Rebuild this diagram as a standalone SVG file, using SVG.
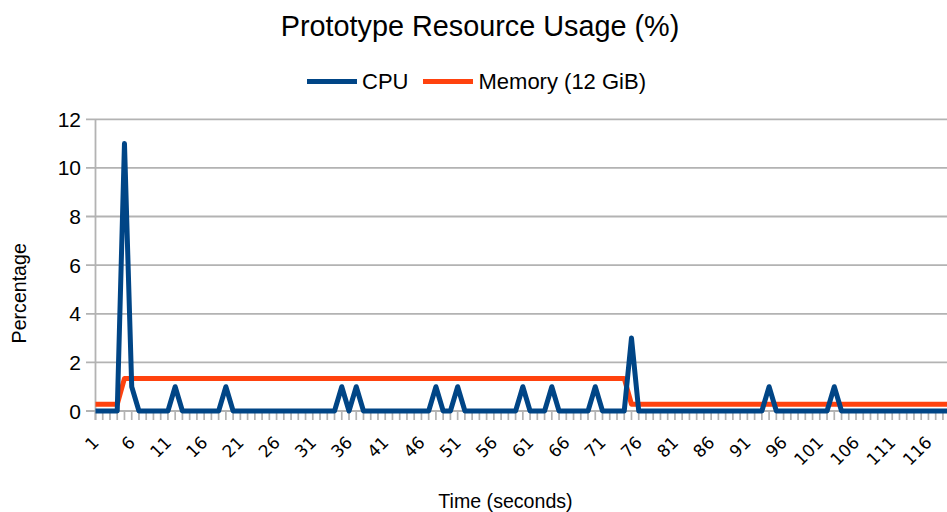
<svg xmlns="http://www.w3.org/2000/svg" width="947" height="512" viewBox="0 0 947 512">
  <style>
    .txt { font-family: "Liberation Sans", Arial, sans-serif; fill: #000; }
    .title { font-size: 28.8px; }
    .legend { font-size: 22px; }
    .ylab { font-size: 21px; text-anchor: end; }
    .xlab { font-family: "DejaVu Sans", sans-serif; font-size: 17px; text-anchor: end; fill: #000; }
    .axtitle { font-size: 19.6px; text-anchor: middle; }
    .grid { stroke: #b3b3b3; stroke-width: 1.8; fill: none; }
    .tick { stroke: #b3b3b3; stroke-width: 1.7; fill: none; }
    .cpu { stroke: #004586; stroke-width: 5; fill: none; stroke-linejoin: round; }
    .mem { stroke: #ff420e; stroke-width: 5; fill: none; stroke-linejoin: round; }
  </style>
  <rect width="947" height="512" fill="#ffffff"/>

  <g id="title">
    <text class="txt title" x="480" y="36" text-anchor="middle">Prototype Resource Usage (%)</text>
  </g>

  <g id="legend">
    <line class="cpu" x1="307" y1="81.5" x2="357" y2="81.5" stroke-width="4.5"/>
    <text class="txt legend" x="362" y="89">CPU</text>
    <line class="mem" x1="423" y1="81.5" x2="473" y2="81.5" stroke-width="4.5"/>
    <text class="txt legend" x="478.5" y="89">Memory (12 GiB)</text>
  </g>

  <!-- horizontal grid lines with y-axis ticks, 0..12 step 2 -->
  <g id="grid">
    <path class="grid" d="M86 119.3H947M86 167.9H947M86 216.5H947M86 265.1H947M86 313.8H947M86 362.4H947M86 411H947"/>
    <path class="grid" d="M95.5 119.3V420"/>
  </g>

  <g id="y-labels">
    <text class="txt ylab" x="81" y="126.8">12</text>
    <text class="txt ylab" x="81" y="175.4">10</text>
    <text class="txt ylab" x="81" y="224">8</text>
    <text class="txt ylab" x="81" y="272.6">6</text>
    <text class="txt ylab" x="81" y="321.3">4</text>
    <text class="txt ylab" x="81" y="369.9">2</text>
    <text class="txt ylab" x="81" y="418.5">0</text>
  </g>

  <!-- one tick per sample, x(i) = 95.5 + (i-1)*7.243 -->
  <g id="x-ticks">
    <path class="tick" d="M95.5 411v9M102.74 411v9M109.99 411v9M117.23 411v9M124.47 411v9M131.72 411v9M138.96 411v9M146.2 411v9M153.44 411v9M160.69 411v9M167.93 411v9M175.17 411v9M182.42 411v9M189.66 411v9M196.9 411v9M204.15 411v9M211.39 411v9M218.63 411v9M225.87 411v9M233.12 411v9M240.36 411v9M247.6 411v9M254.85 411v9M262.09 411v9M269.33 411v9M276.58 411v9M283.82 411v9M291.06 411v9M298.3 411v9M305.55 411v9M312.79 411v9M320.03 411v9M327.28 411v9M334.52 411v9M341.76 411v9M349.01 411v9M356.25 411v9M363.49 411v9M370.73 411v9M377.98 411v9M385.22 411v9M392.46 411v9M399.71 411v9M406.95 411v9M414.19 411v9M421.44 411v9M428.68 411v9M435.92 411v9M443.16 411v9M450.41 411v9M457.65 411v9M464.89 411v9M472.14 411v9M479.38 411v9M486.62 411v9M493.87 411v9M501.11 411v9M508.35 411v9M515.59 411v9M522.84 411v9M530.08 411v9M537.32 411v9M544.57 411v9M551.81 411v9M559.05 411v9M566.3 411v9M573.54 411v9M580.78 411v9M588.02 411v9M595.27 411v9M602.51 411v9M609.75 411v9M617 411v9M624.24 411v9M631.48 411v9M638.73 411v9M645.97 411v9M653.21 411v9M660.45 411v9M667.7 411v9M674.94 411v9M682.18 411v9M689.43 411v9M696.67 411v9M703.91 411v9M711.16 411v9M718.4 411v9M725.64 411v9M732.88 411v9M740.13 411v9M747.37 411v9M754.61 411v9M761.86 411v9M769.1 411v9M776.34 411v9M783.59 411v9M790.83 411v9M798.07 411v9M805.31 411v9M812.56 411v9M819.8 411v9M827.04 411v9M834.29 411v9M841.53 411v9M848.77 411v9M856.02 411v9M863.26 411v9M870.5 411v9M877.74 411v9M884.99 411v9M892.23 411v9M899.47 411v9M906.72 411v9M913.96 411v9M921.2 411v9M928.45 411v9M935.69 411v9M942.93 411v9"/>
  </g>

  <g id="x-labels">
    <text class="xlab" transform="translate(100 443.5) rotate(-45)">1</text>
    <text class="xlab" transform="translate(136.22 443.5) rotate(-45)">6</text>
    <text class="xlab" transform="translate(172.43 443.5) rotate(-45)">11</text>
    <text class="xlab" transform="translate(208.65 443.5) rotate(-45)">16</text>
    <text class="xlab" transform="translate(244.86 443.5) rotate(-45)">21</text>
    <text class="xlab" transform="translate(281.08 443.5) rotate(-45)">26</text>
    <text class="xlab" transform="translate(317.29 443.5) rotate(-45)">31</text>
    <text class="xlab" transform="translate(353.51 443.5) rotate(-45)">36</text>
    <text class="xlab" transform="translate(389.72 443.5) rotate(-45)">41</text>
    <text class="xlab" transform="translate(425.94 443.5) rotate(-45)">46</text>
    <text class="xlab" transform="translate(462.15 443.5) rotate(-45)">51</text>
    <text class="xlab" transform="translate(498.37 443.5) rotate(-45)">56</text>
    <text class="xlab" transform="translate(534.58 443.5) rotate(-45)">61</text>
    <text class="xlab" transform="translate(570.8 443.5) rotate(-45)">66</text>
    <text class="xlab" transform="translate(607.01 443.5) rotate(-45)">71</text>
    <text class="xlab" transform="translate(643.23 443.5) rotate(-45)">76</text>
    <text class="xlab" transform="translate(679.44 443.5) rotate(-45)">81</text>
    <text class="xlab" transform="translate(715.66 443.5) rotate(-45)">86</text>
    <text class="xlab" transform="translate(751.87 443.5) rotate(-45)">91</text>
    <text class="xlab" transform="translate(788.09 443.5) rotate(-45)">96</text>
    <text class="xlab" transform="translate(824.3 443.5) rotate(-45)">101</text>
    <text class="xlab" transform="translate(860.52 443.5) rotate(-45)">106</text>
    <text class="xlab" transform="translate(896.73 443.5) rotate(-45)">111</text>
    <text class="xlab" transform="translate(932.95 443.5) rotate(-45)">116</text>
  </g>

  <g id="axis-titles">
    <text class="txt axtitle" x="505.5" y="507.7">Time (seconds)</text>
    <text class="txt axtitle" transform="translate(25.5 293.3) rotate(-90)">Percentage</text>
  </g>

  <g id="series">
    <polyline id="memory" class="mem" points="95.5,404.2 117.23,404.2 124.47,378.4 624.24,378.4 631.48,404.2 950,404.2"/>
    <polyline id="cpu" class="cpu" points="95.5,411 117.23,411 124.47,143.6 131.72,386.7 138.96,411 167.93,411 175.17,386.7 182.42,411 218.63,411 225.87,386.7 233.12,411 334.52,411 341.76,386.7 349,411 356.25,386.7 363.49,411 428.68,411 435.92,386.7 443.17,411 450.41,411 457.65,386.7 464.9,411 515.59,411 522.84,386.7 530.08,411 544.57,411 551.81,386.7 559.05,411 588.02,411 595.27,386.7 602.51,411 624.24,411 631.48,338.1 638.73,411 761.86,411 769.1,386.7 776.34,411 827.04,411 834.29,386.7 841.53,411 950.17,411"/>
  </g>
</svg>
